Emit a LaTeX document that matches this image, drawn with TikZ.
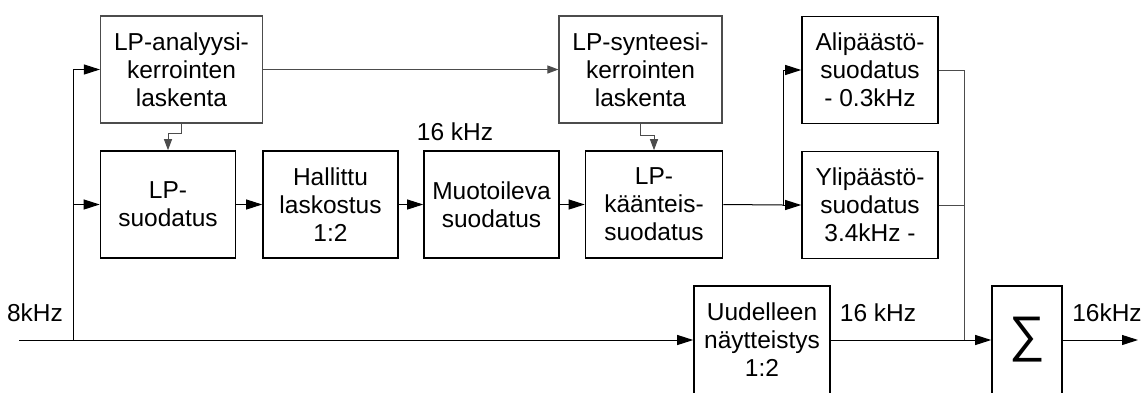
\documentclass[tikz,border=0pt]{standalone}
\usepackage{fontspec}
\setmainfont{Liberation Sans}
\usetikzlibrary{arrows.meta}
\definecolor{linegray}{gray}{0.3}
\begin{document}
\begin{tikzpicture}[x=1pt,y=-1pt,
  every node/.style={font=\fontsize{24.5}{28}\selectfont, align=center, inner sep=0pt},
  blk/.style={draw=black, line width=1.6pt, minimum width=135pt, minimum height=107pt},
  gblk/.style={draw=linegray, line width=1.1pt, minimum width=162pt, minimum height=107pt},
  arr/.style={line width=1pt, -{Triangle[length=16pt,width=10pt]}},
  sarr/.style={draw=linegray, line width=1pt, -{Triangle[length=11pt,width=8pt]}},
  wire/.style={line width=1pt},
  gwire/.style={draw=linegray, line width=1pt}]
\useasboundingbox (0,0) rectangle (1143,392);

% coefficient computation blocks
\node[gblk] (ana) at (181.5,69.5) {LP-analyysi-\\kerrointen\\laskenta};
\node[gblk, minimum width=163pt] (syn) at (640.5,69.5) {LP-synteesi-\\kerrointen\\laskenta};

% main filter chain
\node[blk] (lpf) at (168,204.5) {LP-\\suodatus};
\node[blk] (hal) at (330.5,204.5) {Hallittu\\laskostus\\1:2};
\node[blk] (muo) at (491.5,204.5) {Muotoileva\\suodatus};
\node[blk, minimum width=137pt] (kaa) at (654,204.5) {LP-\\käänteis-\\suodatus};

% band filters
\node[blk, minimum width=136pt] (ali) at (870,70) {Alipäästö-\\suodatus\\- 0.3kHz};
\node[blk, minimum width=136pt] (yli) at (870,205) {Ylipäästö-\\suodatus\\3.4kHz -};

% resampling and summation
\node[blk, minimum width=136pt, minimum height=108pt] (uud) at (762,340) {Uudelleen\\näytteistys\\1:2};
\node[blk, minimum width=70pt, minimum height=108pt] (sig) at (1027,340) {};
\node[font=\fontsize{50}{50}\selectfont] (sum) at (sig.center) {∑};

% frequency labels
\node (f1) at (35,313) {8kHz};
\node (f2) at (455,132) {16 kHz};
\node (f3) at (878,313) {16 kHz};
\node (f4) at (1107,313) {16kHz};

% junctions
\coordinate (src) at (19,340);
\coordinate (j1) at (73,340);
\coordinate (j2) at (783,205);
\coordinate (j3) at (964,340);
\coordinate (out) at (1138,340);

% input and its branches
\draw[wire] (src) -- (j1);
\draw[arr] (j1) -- (uud.west);
\draw[arr] (j1) |- (ana.west);
\draw[arr] (j1 |- lpf.west) -- (lpf.west);

% coefficient paths
\draw[sarr] (ana.east) -- (syn.west);
\draw[sarr] (ana.south) -- ++(0,10) -| (lpf.north);
\draw[sarr] (syn.south) -- ++(0,12) -| (kaa.north);

% chain
\draw[arr] (lpf) -- (hal);
\draw[arr] (hal) -- (muo);
\draw[arr] (muo) -- (kaa);

% split into bands
\draw[wire] (kaa.east) -- (j2);
\draw[arr] (j2) |- (ali.west);
\draw[arr] (j2) -- (yli.west);

% band outputs to the sum
\draw[gwire] (ali.east) -| (j3);
\draw[gwire] (yli.east) -| (j3);
\draw[arr] (uud.east) -- (sig.west);
\draw[arr] (sig.east) -- (out);
\end{tikzpicture}
\end{document}
